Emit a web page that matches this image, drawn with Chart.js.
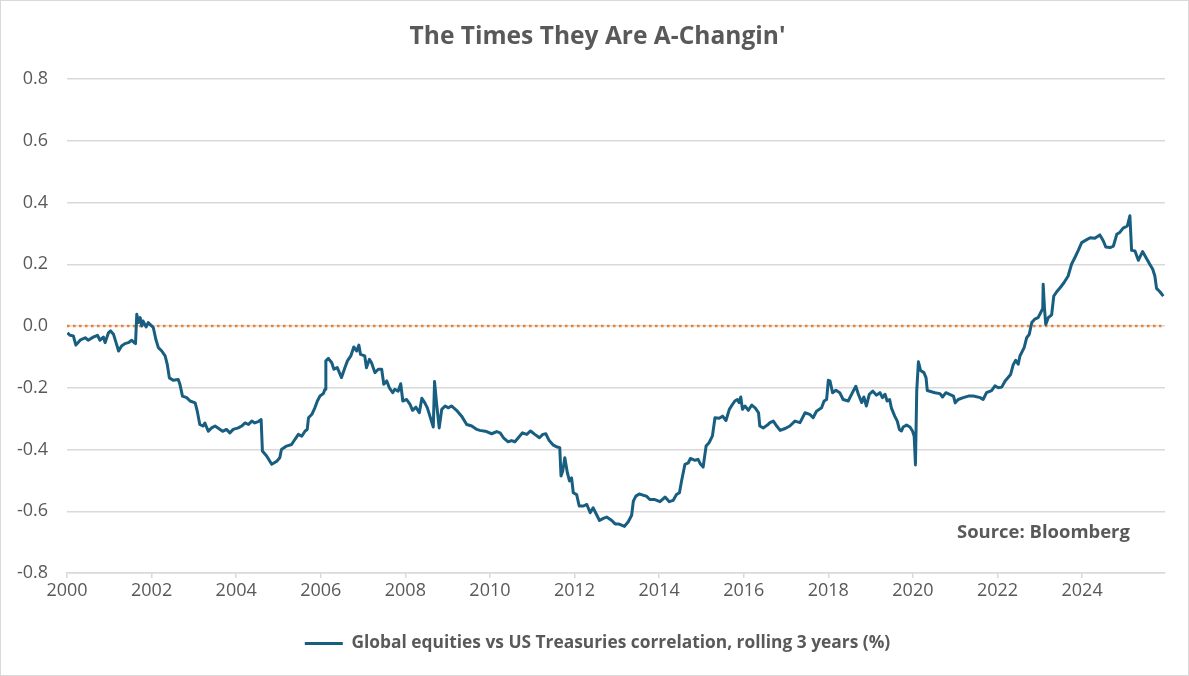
<!DOCTYPE html>
<html><head><meta charset="utf-8">
<script src="https://cdn.jsdelivr.net/npm/chart.js@4"></script>
<style>html,body{margin:0;padding:0;background:#fff;}canvas{display:block;}</style>
</head><body>
<canvas id="c" width="1189" height="676"></canvas>
<script>
const chartTitle = "The Times They Are A-Changin'";
const seriesLabel = "Global equities vs US Treasuries correlation, rolling 3 years (%)";
const sourceNote = "Source: Bloomberg";
const xTickYears = [2000, 2002, 2004, 2006, 2008, 2010, 2012, 2014, 2016, 2018, 2020, 2022, 2024];
const yTickValues = [-0.8, -0.6, -0.4, -0.2, 0, 0.2, 0.4, 0.6, 0.8];
const xRange = [2000, 2025.96];
const zeroLine = [0, 0];

// decimal years
const dates = [
2000.01,2000.07,2000.15,2000.21,2000.31,2000.43,2000.50,2000.62,2000.72,2000.78,
2000.86,2000.90,2000.98,2001.03,2001.10,2001.16,2001.22,2001.29,2001.37,2001.45,
2001.53,2001.59,2001.62,2001.65,2001.69,2001.73,2001.77,2001.80,2001.87,2001.92,
2001.98,2002.04,2002.10,2002.16,2002.24,2002.32,2002.37,2002.42,2002.51,2002.63,
2002.67,2002.73,2002.83,2002.91,2003.03,2003.08,2003.14,2003.22,2003.26,2003.34,
2003.42,2003.50,2003.62,2003.68,2003.77,2003.85,2003.93,2004.05,2004.13,2004.21,
2004.29,2004.37,2004.44,2004.52,2004.59,
2004.62,2004.72,2004.84,2004.96,2005.03,2005.07,2005.19,2005.31,2005.39,2005.47,
2005.55,2005.63,2005.68,2005.71,2005.79,2005.86,2005.92,2005.98,2006.06,2006.10,
2006.12,2006.18,2006.26,2006.31,2006.39,2006.49,2006.57,2006.63,2006.71,2006.78,
2006.85,2006.90,2006.94,2007.04,2007.08,2007.15,2007.20,2007.28,2007.36,2007.44,
2007.49,2007.56,2007.62,2007.70,2007.75,2007.83,2007.89,2007.94,2008.03,2008.11,
2008.17,2008.25,2008.33,2008.39,2008.46,2008.52,2008.58,2008.66,2008.69,2008.74,
2008.80,2008.86,2008.94,2009.02,2009.09,2009.21,2009.33,2009.45,2009.57,2009.69,
2009.76,2009.92,2010.04,2010.16,2010.24,2010.32,2010.43,2010.51,2010.59,2010.67,
2010.77,2010.87,2010.96,2011.06,2011.17,2011.25,2011.32,2011.40,2011.50,2011.59,
2011.65,2011.68,2011.72,2011.77,2011.83,2011.88,2011.93,2011.97,2012.05,2012.11,
2012.21,2012.29,2012.37,2012.44,2012.51,2012.59,2012.68,2012.76,2012.88,2012.96,
2013.04,2013.11,2013.18,2013.27,2013.35,2013.39,2013.45,2013.53,2013.62,2013.70,
2013.78,2013.90,2014.02,2014.14,2014.24,2014.33,2014.41,2014.48,2014.53,2014.61,
2014.69,2014.74,2014.85,2014.92,2014.98,2015.04,2015.11,2015.18,2015.26,2015.32,
2015.42,2015.50,2015.58,2015.66,2015.71,2015.79,2015.85,2015.89,2015.93,2015.97,
2016.03,2016.11,2016.19,2016.27,2016.35,2016.38,2016.46,2016.56,2016.62,2016.70,
2016.78,2016.86,2016.98,2017.09,2017.21,2017.33,2017.45,2017.56,2017.64,2017.72,
2017.84,2017.90,2017.96,2018.00,2018.04,2018.10,2018.18,2018.27,2018.35,2018.47,
2018.57,2018.65,2018.71,2018.79,2018.84,2018.90,2018.97,2019.05,2019.14,2019.22,
2019.28,2019.34,2019.39,2019.45,2019.49,2019.57,2019.63,2019.68,2019.73,2019.77,
2019.85,2019.93,2019.99,2020.03,2020.06,2020.09,2020.13,2020.18,2020.26,2020.31,
2020.34,
2020.52,2020.64,2020.70,2020.78,2020.88,2020.96,2021.00,2021.07,2021.19,2021.31,
2021.43,2021.59,2021.66,2021.74,2021.86,2021.94,2022.02,2022.10,2022.18,2022.25,
2022.31,2022.37,2022.43,2022.49,2022.53,2022.63,2022.69,2022.75,2022.81,2022.88,
2022.96,2023.02,2023.07,2023.08,2023.11,2023.14,2023.20,2023.28,2023.33,2023.40,
2023.48,2023.57,2023.67,2023.75,2023.83,2023.91,2023.99,2024.09,2024.19,2024.30,
2024.42,2024.50,2024.56,2024.66,2024.74,2024.82,2024.89,2024.97,2025.07,2025.13,
2025.17,2025.25,2025.33,2025.38,2025.43,2025.51,2025.60,2025.67,2025.72,2025.76,
2025.84,2025.92
];

const corr = [
-0.022,-0.030,-0.032,-0.062,-0.046,-0.038,-0.046,-0.036,-0.030,-0.046,
-0.036,-0.054,-0.022,-0.016,-0.027,-0.054,-0.081,-0.065,-0.057,-0.054,
-0.046,-0.054,-0.057,0.038,0.011,0.027,0.000,0.016,-0.003,0.011,
0.003,-0.005,-0.043,-0.070,-0.081,-0.097,-0.124,-0.168,-0.176,-0.173,
-0.189,-0.227,-0.232,-0.243,-0.249,-0.276,-0.319,-0.324,-0.314,-0.341,
-0.330,-0.324,-0.335,-0.341,-0.335,-0.346,-0.335,-0.330,-0.324,-0.314,
-0.319,-0.308,-0.314,-0.310,-0.303,
-0.405,-0.421,-0.448,-0.438,-0.427,-0.400,-0.389,-0.384,-0.367,-0.351,
-0.357,-0.340,-0.335,-0.297,-0.286,-0.265,-0.243,-0.227,-0.219,-0.205,
-0.113,-0.105,-0.119,-0.140,-0.135,-0.167,-0.135,-0.113,-0.097,-0.068,
-0.081,-0.062,-0.092,-0.097,-0.135,-0.108,-0.119,-0.151,-0.140,-0.140,
-0.189,-0.178,-0.200,-0.216,-0.205,-0.211,-0.187,-0.243,-0.238,-0.254,
-0.273,-0.263,-0.281,-0.234,-0.249,-0.265,-0.292,-0.327,-0.180,-0.254,
-0.330,-0.270,-0.259,-0.265,-0.259,-0.273,-0.292,-0.319,-0.324,-0.335,
-0.338,-0.342,-0.349,-0.342,-0.346,-0.362,-0.375,-0.371,-0.375,-0.362,
-0.346,-0.351,-0.340,-0.351,-0.362,-0.351,-0.349,-0.371,-0.386,-0.392,
-0.394,-0.486,-0.470,-0.427,-0.475,-0.502,-0.492,-0.540,-0.546,-0.583,
-0.583,-0.578,-0.605,-0.589,-0.608,-0.630,-0.623,-0.619,-0.630,-0.641,
-0.641,-0.645,-0.649,-0.634,-0.613,-0.567,-0.551,-0.544,-0.548,-0.551,
-0.562,-0.562,-0.569,-0.554,-0.569,-0.565,-0.546,-0.540,-0.502,-0.448,
-0.443,-0.429,-0.435,-0.432,-0.448,-0.457,-0.389,-0.378,-0.356,-0.297,
-0.299,-0.292,-0.306,-0.270,-0.259,-0.243,-0.238,-0.248,-0.230,-0.270,
-0.259,-0.273,-0.256,-0.265,-0.281,-0.324,-0.330,-0.321,-0.313,-0.308,
-0.324,-0.338,-0.332,-0.324,-0.308,-0.313,-0.281,-0.286,-0.297,-0.276,
-0.265,-0.243,-0.238,-0.176,-0.178,-0.216,-0.208,-0.216,-0.238,-0.243,
-0.216,-0.195,-0.221,-0.248,-0.230,-0.259,-0.221,-0.211,-0.224,-0.216,
-0.232,-0.221,-0.243,-0.238,-0.265,-0.292,-0.308,-0.335,-0.340,-0.327,
-0.321,-0.327,-0.340,-0.357,-0.450,-0.211,-0.116,-0.144,-0.151,-0.167,
-0.209,
-0.216,-0.219,-0.230,-0.216,-0.222,-0.227,-0.249,-0.238,-0.232,-0.227,
-0.227,-0.232,-0.238,-0.216,-0.209,-0.194,-0.200,-0.198,-0.178,-0.167,
-0.157,-0.126,-0.111,-0.124,-0.097,-0.070,-0.038,-0.027,0.011,0.022,
0.027,0.043,0.057,0.135,0.059,0.005,0.027,0.036,0.097,0.111,
0.124,0.140,0.162,0.200,0.222,0.245,0.270,0.278,0.286,0.284,
0.295,0.276,0.256,0.254,0.259,0.297,0.303,0.317,0.324,0.357,
0.245,0.243,0.213,0.227,0.241,0.222,0.200,0.184,0.162,0.122,
0.111,0.097
];

const FAMILY = "'Open Sans', sans-serif";
const TEXT = '#595959';
const GRID = '#d9d9d9';
const LINE = '#175e80';

const mctx = document.createElement('canvas').getContext('2d');
function fitSize(text, weight, target) {
  mctx.font = weight + ' 100px ' + FAMILY;
  return 100 * target / mctx.measureText(text).width;
}
const titleSize = fitSize(chartTitle, 'bold', 376);
const legendSize = fitSize(seriesLabel, 'bold', 539);
const sourceSize = fitSize(sourceNote, 'bold', 173);

const plotTop = 79, plotBottom = 573, padLeft = 30, padRight = 24, axisLeft = 67;
const titleCenter = 37;
const titlePadTop = titleCenter - 0.6 * titleSize;
const titlePadBottom = plotTop - titlePadTop - 1.2 * titleSize;
const legendPad = 6;
const legendCenter = 643.5;
const legendTop = legendCenter - legendPad - legendSize / 2;
const legendHeight = legendSize + legendPad + 10;
const padBottom = 676 - legendTop - legendHeight;
const xAxisHeight = legendTop - plotBottom;

const framePlugin = {
  id: 'frame',
  afterLayout(chart) {
    // let the y tick labels use the space left of the axis box (avoid clipping)
    const s = chart.scales.y;
    s.left = 0;
    s.width = s.right;
  },
  beforeDraw(chart) {
    const c = chart.ctx;
    c.save(); c.fillStyle = '#fff'; c.fillRect(0, 0, chart.width, chart.height); c.restore();
  },
  afterDraw(chart) {
    const c = chart.ctx, a = chart.chartArea;
    c.save();
    c.strokeStyle = GRID; c.lineWidth = 1;
    c.strokeRect(0.5, 0.5, chart.width - 1, chart.height - 1);
    c.fillStyle = TEXT;
    c.font = 'bold ' + sourceSize + 'px ' + FAMILY;
    c.textAlign = 'left'; c.textBaseline = 'middle';
    c.fillText(sourceNote, a.right - 208, a.bottom - 40);
    c.restore();
  }
};

new Chart(document.getElementById('c'), {
  type: 'line',
  data: {
    datasets: [
      {
        label: seriesLabel,
        data: dates.map((d, i) => ({ x: d, y: corr[i] })),
        borderColor: LINE, backgroundColor: LINE,
        borderWidth: 3, pointRadius: 0, tension: 0,
        borderJoinStyle: 'round'
      },
      {
        label: 'zero',
        data: [{ x: xRange[0], y: zeroLine[0] }, { x: xRange[1], y: zeroLine[1] }],
        borderColor: '#ed7d31', backgroundColor: '#ed7d31',
        borderWidth: 2.5, borderDash: [2.5, 3.5], pointRadius: 0
      }
    ]
  },
  options: {
    responsive: false, animation: false, devicePixelRatio: 1,
    layout: { padding: { left: padLeft, right: padRight, top: 0, bottom: padBottom } },
    scales: {
      x: {
        type: 'linear', min: xRange[0], max: xRange[1],
        afterBuildTicks: s => { s.ticks = xTickYears.map(v => ({ value: v })); },
        afterFit: s => { s.height = xAxisHeight; },
        ticks: { callback: v => String(v), color: TEXT, font: { family: FAMILY, size: 18 }, padding: 2, maxRotation: 0, autoSkip: false },
        grid: { display: true, drawOnChartArea: false, drawTicks: true, tickLength: 5, color: GRID, lineWidth: 1.5 },
        border: { display: true, color: GRID, width: 1.5 }
      },
      y: {
        min: -0.8, max: 0.8,
        afterBuildTicks: s => { s.ticks = yTickValues.map(v => ({ value: v })); },
        afterFit: s => { s.width = axisLeft - padLeft; },
        ticks: { callback: v => v.toFixed(1), color: TEXT, font: { family: FAMILY, size: 18 }, padding: 19 },
        grid: { color: GRID, lineWidth: 1.5, drawTicks: false },
        border: { display: false }
      }
    },
    plugins: {
      title: {
        display: true, text: chartTitle, color: TEXT,
        font: { family: FAMILY, size: titleSize, weight: 'bold', lineHeight: 1.2 },
        padding: { top: titlePadTop, bottom: titlePadBottom }
      },
      legend: {
        position: 'bottom',
        labels: {
          filter: item => item.datasetIndex === 0,
          usePointStyle: true, pointStyle: 'line', pointStyleWidth: 38,
          color: TEXT, padding: legendPad,
          font: { family: FAMILY, size: legendSize, weight: 'bold' }
        }
      },
      tooltip: { enabled: false }
    }
  },
  plugins: [framePlugin]
});
</script>
</body></html>
